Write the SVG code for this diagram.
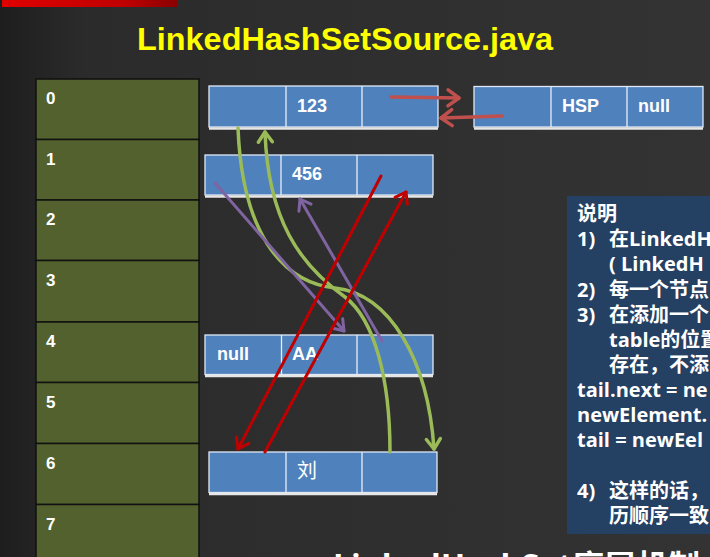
<svg xmlns="http://www.w3.org/2000/svg" width="710" height="557" viewBox="0 0 710 557">
<defs>
<linearGradient id="bg" x1="0" y1="0" x2="1" y2="0">
<stop offset="0" stop-color="#1e1e1e"/>
<stop offset="0.12" stop-color="#2b2b2b"/>
<stop offset="1" stop-color="#333333"/>
</linearGradient>
<linearGradient id="redbar" x1="0" y1="0" x2="1" y2="0">
<stop offset="0" stop-color="#e00000"/>
<stop offset="0.7" stop-color="#c00000"/>
<stop offset="1" stop-color="#8a0000"/>
</linearGradient>
<marker id="ah-lred" markerUnits="userSpaceOnUse" markerWidth="20" markerHeight="20" viewBox="0 0 20 20" refX="16" refY="10" orient="auto" overflow="visible">
<path d="M5,2 L16,10 L5,18" fill="none" stroke="#c0504d" stroke-width="3.5" stroke-linecap="round" stroke-linejoin="round"/>
</marker>
<marker id="ah-green" markerUnits="userSpaceOnUse" markerWidth="20" markerHeight="20" viewBox="0 0 20 20" refX="16" refY="10" orient="auto" overflow="visible">
<path d="M6,3 L16,10 L6,17" fill="none" stroke="#9bbb59" stroke-width="3.5" stroke-linecap="round" stroke-linejoin="round"/>
</marker>
<marker id="ah-purple" markerUnits="userSpaceOnUse" markerWidth="20" markerHeight="20" viewBox="0 0 20 20" refX="16" refY="10" orient="auto" overflow="visible">
<path d="M6,3 L16,10 L6,17" fill="none" stroke="#8064a2" stroke-width="3" stroke-linecap="round" stroke-linejoin="round"/>
</marker>
<marker id="ah-dred" markerUnits="userSpaceOnUse" markerWidth="20" markerHeight="20" viewBox="0 0 20 20" refX="16" refY="10" orient="auto" overflow="visible">
<path d="M6,3 L16,10 L6,17" fill="none" stroke="#c00000" stroke-width="3" stroke-linecap="round" stroke-linejoin="round"/>
</marker>
</defs>
<style>
.cell{fill:#4f81bd;stroke:#dfe8f4;stroke-width:1.3}
.div{stroke:#e8eef7;stroke-width:1.3}
.shadow{stroke:#e6e6e6;stroke-width:2.5}
.ntext{font-family:"Liberation Sans",Arial,sans-serif;font-weight:bold;font-size:18px;fill:#ffffff}
.row{fill:#52612e;stroke:#111111;stroke-width:1.5}
.rlabel{font-family:"Liberation Sans",Arial,sans-serif;font-weight:bold;font-size:17px;fill:#ffffff}
.note{font-family:"Open Sans","Noto Sans CJK SC",sans-serif;font-weight:bold;font-size:20px;fill:#ffffff}
.conn{fill:none;stroke-linecap:round}
.lred{stroke:#c0504d;stroke-width:3.5}
.green{stroke:#9bbb59;stroke-width:3.5}
.purple{stroke:#8064a2;stroke-width:3}
.dred{stroke:#c00000;stroke-width:3}
</style>
<rect x="0" y="0" width="710" height="557" fill="url(#bg)"/>
<rect x="2" y="0" width="175" height="7" fill="url(#redbar)"/>
<text x="137" y="50" textLength="416" lengthAdjust="spacingAndGlyphs" font-family="Liberation Sans, Arial, sans-serif" font-weight="bold" font-size="32" fill="#ffff00">LinkedHashSetSource.java</text>

<g id="table">
<rect class="row" x="36" y="79" width="163" height="60.5"/>
<rect class="row" x="36" y="139.5" width="163" height="60.5"/>
<rect class="row" x="36" y="200" width="163" height="60.5"/>
<rect class="row" x="36" y="260.5" width="163" height="61.5"/>
<rect class="row" x="36" y="322" width="163" height="60.5"/>
<rect class="row" x="36" y="382.5" width="163" height="61"/>
<rect class="row" x="36" y="443.5" width="163" height="61"/>
<rect class="row" x="36" y="504.5" width="163" height="60"/>
<text class="rlabel" x="46" y="104">0</text>
<text class="rlabel" x="46" y="165">1</text>
<text class="rlabel" x="46" y="225">2</text>
<text class="rlabel" x="46" y="286">3</text>
<text class="rlabel" x="46" y="347">4</text>
<text class="rlabel" x="46" y="408">5</text>
<text class="rlabel" x="46" y="469">6</text>
<text class="rlabel" x="46" y="530">7</text>
</g>

<g id="node-123">
<rect class="cell" x="209" y="86" width="229" height="41"/>
<line class="div" x1="286" y1="86" x2="286" y2="127"/>
<line class="div" x1="362" y1="86" x2="362" y2="127"/>
<line class="shadow" x1="209" y1="128.5" x2="438" y2="128.5"/>
<text class="ntext" x="297" y="112" font-size="19">123</text>
</g>

<g id="node-HSP">
<rect class="cell" x="474" y="86.5" width="229" height="40.5"/>
<line class="div" x1="551" y1="86.5" x2="551" y2="127"/>
<line class="div" x1="627" y1="86.5" x2="627" y2="127"/>
<line class="shadow" x1="474" y1="128.5" x2="703" y2="128.5"/>
<text class="ntext" x="562" y="112">HSP</text>
<text class="ntext" x="638" y="112">null</text>
</g>

<g id="node-456">
<rect class="cell" x="205" y="155" width="228" height="40"/>
<line class="div" x1="281" y1="155" x2="281" y2="195"/>
<line class="div" x1="357" y1="155" x2="357" y2="195"/>
<line class="shadow" x1="205" y1="196.5" x2="433" y2="196.5"/>
<text class="ntext" x="292" y="180" font-size="19">456</text>
</g>

<g id="node-AA">
<rect class="cell" x="205" y="335" width="228" height="39.5"/>
<line class="div" x1="281.5" y1="335" x2="281.5" y2="374.5"/>
<line class="div" x1="357" y1="335" x2="357" y2="374.5"/>
<line class="shadow" x1="205" y1="376" x2="433" y2="376"/>
<text class="ntext" x="217" y="360">null</text>
<text class="ntext" x="292" y="360">AA</text>
</g>

<g id="node-liu">
<rect class="cell" x="209" y="452" width="228" height="40.5"/>
<line class="div" x1="286" y1="452" x2="286" y2="492.5"/>
<line class="div" x1="362" y1="452" x2="362" y2="492.5"/>
<line class="shadow" x1="209" y1="494" x2="437" y2="494"/>
<text x="297" y="478" font-family="Noto Sans CJK SC, sans-serif" font-size="20" fill="#ffffff">刘</text>
</g>

<g id="connectors">
<path class="conn lred" d="M391,97 L459,98" marker-end="url(#ah-lred)"/>
<path class="conn lred" d="M502,116 L441,118" marker-end="url(#ah-lred)"/>
<path class="conn green" d="M238,128 C242,230 280,282 335,288 C390,294 428,360 434,449" marker-end="url(#ah-green)"/>
<path class="conn green" d="M390,452 C390,380 375,320 345,297 C300,265 268,220 265,132" marker-end="url(#ah-green)"/>
<path class="conn purple" d="M215,183 L344,331" marker-end="url(#ah-purple)"/>
<path class="conn purple" d="M382,341 L300,199" marker-end="url(#ah-purple)"/>
<path class="conn dred" d="M381,176 L238,449" marker-end="url(#ah-dred)"/>
<path class="conn dred" d="M265,452 L406,192" marker-end="url(#ah-dred)"/>
</g>

<g id="note">
<rect x="567" y="196" width="150" height="338" fill="#244062"/>
<text class="note" x="577" y="221">说明</text>
<text class="note" x="577" y="246">1)</text>
<text class="note" x="609" y="246">在LinkedH</text>
<text class="note" x="609" y="271">( LinkedH</text>
<text class="note" x="577" y="297">2)</text>
<text class="note" x="609" y="297">每一个节点</text>
<text class="note" x="577" y="322">3)</text>
<text class="note" x="609" y="322">在添加一个</text>
<text class="note" x="609" y="347">table的位置</text>
<text class="note" x="609" y="372">存在，不添</text>
<text class="note" x="577" y="397">tail.next = ne</text>
<text class="note" x="577" y="422">newElement.</text>
<text class="note" x="577" y="447">tail = newEel</text>
<text class="note" x="577" y="498">4)</text>
<text class="note" x="609" y="498">这样的话，</text>
<text class="note" x="609" y="523">历顺序一致</text>
</g>

<text x="333" y="576" textLength="367" lengthAdjust="spacingAndGlyphs" font-family="Open Sans, Noto Sans CJK SC, sans-serif" font-weight="bold" font-size="30" fill="#ffffff">LinkedHashSet底层机制</text>
</svg>
